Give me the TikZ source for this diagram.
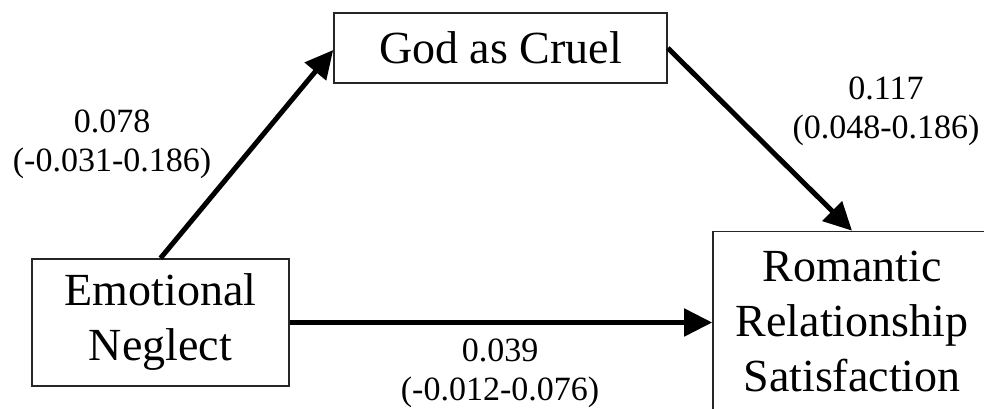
\documentclass[tikz,border=0pt]{standalone}
\usepackage{fontspec}
\setmainfont{Liberation Serif}
\usetikzlibrary{arrows.meta}

\tikzset{
  varbox/.style={draw=black!85, line width=1.6pt, inner sep=0pt, align=center,
                 font=\fontsize{46}{55}\selectfont},
  path/.style={line width=5pt, -{Triangle[length=28pt,width=27pt]}},
  coef/.style={align=center, inner sep=0pt, font=\fontsize{34}{39}\selectfont}
}

\begin{document}
\begin{tikzpicture}[x=1pt,y=-1pt]
  \useasboundingbox (0,0) rectangle (984,409);
  \clip (0,0) rectangle (984,409);

  % variables
  \node[varbox, minimum width=333pt, minimum height=70pt] (gc) at (500.5,48) {God as Cruel};
  \node[varbox, minimum width=257pt, minimum height=127pt] (en) at (160.5,322.5) {Emotional\\Neglect};
  \node[varbox, minimum width=278pt, minimum height=180pt] (rrs) at (852,321.5)
       {Romantic\\Relationship\\Satisfaction};

  % paths
  \draw[path] (en.north) -- ([yshift=-2pt]gc.west);
  \draw[path] (gc.east) -- (rrs.north);
  \draw[path] (en.east) -- (en.east -| rrs.west);

  % coefficients with confidence intervals
  \node[coef] (a) at (112,144) {0.078\\(-0.031-0.186)};
  \node[coef] (b) at (886,111) {0.117\\(0.048-0.186)};
  \node[coef] (c) at (500,373) {0.039\\(-0.012-0.076)};
\end{tikzpicture}
\end{document}
